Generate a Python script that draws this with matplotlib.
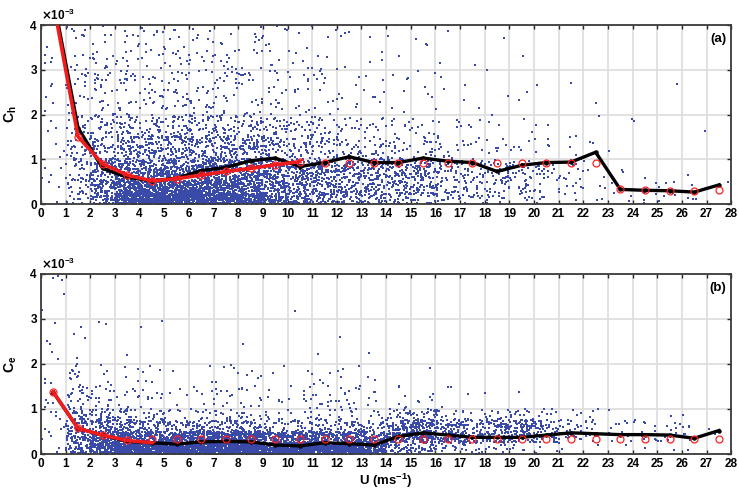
import matplotlib
matplotlib.use('Agg')
import matplotlib.pyplot as plt

plt.rcParams['font.family'] = ['Liberation Sans', 'DejaVu Sans']
plt.rcParams['font.weight'] = 'bold'

# bin centres (m/s)
u = [0.5 + i for i in range(28)]

# panel (a) - Ch (x 1e-3)
ch_black = [4.6, 1.71, 0.80, 0.60, 0.52, 0.58, 0.75, 0.82, 0.97, 1.03, 0.84, 0.93, 1.06,
            0.93, 0.93, 1.03, 0.96, 0.93, 0.73, 0.87, 0.93, 0.94, 1.16, 0.33, 0.31, 0.30,
            0.27, 0.43]
ch_red_line = [4.5, 1.51, 0.90, 0.65, 0.52, 0.57, 0.65, 0.73, 0.80, 0.88, 0.95]
ch_red_circ = [4.5, 1.51, 0.90, 0.65, 0.52, 0.57, 0.65, 0.73, 0.80, 0.88, 0.95, 0.93,
               0.93, 0.93, 0.93, 0.93, 0.93, 0.93, 0.93, 0.93, 0.93, 0.93, 0.93, 0.33,
               0.31, 0.30, 0.30, 0.32]

# panel (b) - Ce (x 1e-3)
ce_black = [1.37, 0.57, 0.42, 0.28, 0.25, 0.22, 0.27, 0.28, 0.27, 0.20, 0.18, 0.25, 0.23,
            0.20, 0.39, 0.47, 0.42, 0.37, 0.37, 0.37, 0.42, 0.47, 0.45, 0.43, 0.43, 0.42,
            0.35, 0.52]
ce_red_line = [1.37, 0.57, 0.42, 0.30, 0.25]
ce_red_circ = [1.37, 0.57, 0.42, 0.30, 0.34, 0.34, 0.34, 0.34, 0.34, 0.34, 0.34, 0.34,
               0.34, 0.34, 0.34, 0.34, 0.34, 0.34, 0.34, 0.34, 0.34, 0.34, 0.34, 0.34,
               0.34, 0.34, 0.34, 0.34]

# scatter cloud: dot counts read per cell (1 m/s wide columns, rows below)
y_edges = [0, 0.25, 0.5, 0.75, 1.0, 1.5, 2.0, 3.0, 4.0]
ch_counts = [
    [2, 2, 2, 2, 3, 3, 5, 5],
    [12, 15, 15, 15, 25, 20, 20, 14],
    [50, 50, 45, 40, 45, 30, 24, 15],
    [200, 110, 70, 55, 60, 35, 24, 15],
    [280, 130, 80, 55, 60, 35, 24, 15],
    [250, 130, 80, 60, 65, 38, 24, 15],
    [220, 120, 90, 70, 65, 38, 22, 15],
    [190, 110, 90, 75, 65, 36, 20, 13],
    [150, 95, 80, 70, 60, 32, 20, 12],
    [90, 65, 60, 55, 50, 26, 16, 10],
    [60, 50, 45, 45, 38, 20, 13, 8],
    [45, 42, 42, 38, 32, 16, 11, 6],
    [35, 38, 38, 32, 28, 13, 8, 5],
    [30, 32, 32, 30, 24, 10, 7, 4],
    [25, 32, 36, 32, 20, 8, 6, 3],
    [20, 28, 32, 28, 16, 8, 5, 3],
    [15, 18, 18, 18, 12, 5, 3, 2],
    [10, 14, 14, 11, 8, 4, 3, 1],
    [10, 16, 18, 14, 7, 3, 2, 1],
    [6, 11, 14, 11, 5, 2, 2, 1],
    [4, 7, 9, 9, 5, 2, 1, 0],
    [3, 5, 6, 6, 3, 1, 1, 0],
    [2, 2, 2, 2, 2, 1, 1, 0],
    [2, 2, 1, 1, 1, 1, 0, 0],
    [3, 2, 1, 0, 0, 1, 0, 0],
    [4, 3, 1, 0, 0, 0, 1, 0],
    [3, 2, 1, 0, 0, 1, 0, 0],
    [1, 1, 0, 0, 0, 0, 0, 0],
]
ce_counts = [
    [3, 3, 3, 4, 6, 3, 5, 5],
    [50, 50, 35, 25, 25, 12, 4, 0],
    [140, 100, 55, 28, 18, 5, 2, 0],
    [250, 115, 45, 18, 9, 4, 1, 0],
    [300, 105, 38, 14, 9, 5, 2, 0],
    [300, 115, 32, 7, 4, 1, 0, 0],
    [300, 140, 36, 9, 5, 2, 0, 0],
    [280, 140, 36, 11, 10, 5, 0, 0],
    [250, 130, 32, 9, 10, 5, 1, 0],
    [250, 95, 18, 7, 5, 2, 0, 0],
    [250, 95, 22, 7, 8, 3, 0, 1],
    [250, 95, 22, 7, 10, 5, 1, 0],
    [220, 95, 27, 9, 12, 5, 1, 0],
    [150, 75, 22, 5, 5, 2, 1, 0],
    [40, 85, 55, 18, 5, 1, 0, 0],
    [25, 100, 75, 22, 5, 1, 0, 0],
    [15, 65, 45, 13, 3, 0, 0, 0],
    [15, 45, 32, 7, 1, 0, 0, 0],
    [10, 55, 42, 11, 1, 0, 0, 0],
    [5, 50, 50, 13, 1, 0, 0, 0],
    [4, 32, 28, 7, 1, 0, 0, 0],
    [2, 11, 14, 4, 0, 0, 0, 0],
    [1, 5, 7, 3, 0, 0, 0, 0],
    [1, 5, 5, 1, 0, 0, 0, 0],
    [1, 5, 5, 1, 0, 0, 0, 0],
    [1, 5, 5, 1, 0, 0, 0, 0],
    [1, 4, 3, 1, 0, 0, 0, 0],
    [0, 1, 1, 0, 0, 0, 0, 0],
]


def cloud(counts):
    # spread each cell's dots over the cell (quadratic Weyl layout, no randomness)
    a1, a2 = 0.7548776662466927, 0.5698402909980532
    xs, ys = [], []
    k = 0
    for col, row in enumerate(counts):
        for j, n in enumerate(row):
            for _ in range(n):
                k += 1
                fx = (k * k * a1 + k * 0.31) % 1
                fy = (k * k * a2 + k * 0.47) % 1
                xs.append(col + fx)
                ys.append(y_edges[j] + fy * (y_edges[j + 1] - y_edges[j]))
    return xs, ys


fig = plt.figure(figsize=(7.39, 4.92), dpi=100)
ax1 = fig.add_axes([0.0555, 0.585, 0.934, 0.364])
ax2 = fig.add_axes([0.0555, 0.0772, 0.934, 0.3665])

panels = [
    (ax1, ch_counts, ch_black, ch_red_line, ch_red_circ, 'C$_\\mathregular{h}$', '(a)'),
    (ax2, ce_counts, ce_black, ce_red_line, ce_red_circ, 'C$_\\mathregular{e}$', '(b)'),
]

for ax, counts, blk, redl, redc, ylab, tag in panels:
    xs, ys = cloud(counts)
    ax.scatter(xs, ys, s=0.9, marker='s', color='#3a4aa8', linewidths=0, zorder=2)
    ax.plot(u, blk, '-', color='black', lw=2.4, marker='o', ms=2.2, zorder=3)
    ax.plot(u[:len(redl)], redl, '-', color='#ee1c1c', lw=2.6, zorder=4)
    ax.plot(u, redc, 'o', mfc='none', mec='#ff2020', ms=5, mew=0.9, zorder=5)

    ax.set_xlim(0, 28)
    ax.set_ylim(0, 4)
    ax.set_xticks(range(0, 29))
    ax.set_yticks(range(0, 5))
    ax.grid(True, color='#dddddd', lw=1.2, zorder=0)
    ax.set_axisbelow(True)
    ax.tick_params(direction='in', top=True, right=True, length=3, width=1,
                   labelsize=8.5, pad=3, color='#262626')
    for lab in ax.get_xticklabels() + ax.get_yticklabels():
        lab.set_fontweight('bold')
    for sp in ax.spines.values():
        sp.set_linewidth(1.3)
        sp.set_color('#3a3a3a')
    ax.set_ylabel(ylab, fontsize=10, fontweight='bold', labelpad=8)
    ax.text(0.0, 1.01, '$\\times$10$^{\\mathregular{-3}}$', transform=ax.transAxes,
            fontsize=8.5, ha='left', va='bottom')
    ax.text(0.993, 0.955, tag, transform=ax.transAxes, fontsize=9.5,
            fontweight='bold', ha='right', va='top')

ax2.set_xlabel('U (ms$^{\\mathregular{-1}}$)', fontsize=9.5, fontweight='bold',
               labelpad=1)

fig.savefig('out.png', dpi=100)
